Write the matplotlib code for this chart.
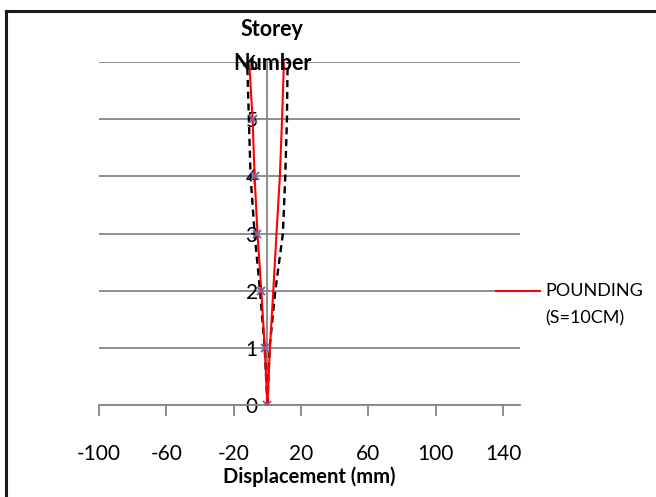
import matplotlib
matplotlib.use("Agg")
import matplotlib.pyplot as plt
from matplotlib.lines import Line2D

plt.rcParams['font.family'] = ['Lato', 'DejaVu Sans']
plt.rcParams['axes.unicode_minus'] = False

# storey levels
storeys = [0, 1, 2, 3, 4, 5, 6]

# pounding (S=10cm) displacement envelopes, mm
pounding_neg = [0, -1.6, -3.6, -5.9, -7.6, -8.8, -10.8]
pounding_pos = [0, 1.5, 3.5, 5.4, 7.4, 8.7, 9.8]

# dashed comparison envelopes, mm
dashed_neg = [0, -1.6, -4.4, -7.6, -10.0, -11.0, -12.0]
dashed_pos = [0, 1.3, 4.7, 9.2, 10.6, 11.6, 12.0]

# marker-only series, mm
marker_vals = [0, -1.7, -3.8, -6.1, -7.6, -8.6, -12.0]

xticks = [-100, -60, -20, 20, 60, 100, 140]

fig = plt.figure(figsize=(6.56, 4.97), dpi=100)
ax = fig.add_axes([99 / 656, 1 - 405 / 497, 421 / 656, 343 / 497])

grid_col = '#868686'

ax.plot(dashed_neg, storeys, color='black', lw=1.7, ls=(0, (3, 2)), zorder=3)
ax.plot(dashed_pos, storeys, color='black', lw=1.7, ls=(0, (3, 2)), zorder=3)
ax.plot(pounding_neg, storeys, color='#FF0000', lw=1.5, zorder=4)
ax.plot(pounding_pos, storeys, color='#FF0000', lw=1.5, zorder=4)
ax.plot(marker_vals, storeys, ls='none', marker='x', ms=6, mew=1.4,
        color='#8064A2', zorder=5)

ax.set_xlim(-100, 150)
ax.set_ylim(0, 6)
ax.set_xticks(xticks)
ax.set_xticklabels([str(v) for v in xticks])
ax.set_yticks(storeys)

ax.yaxis.grid(True, color=grid_col, lw=1.3)
ax.set_axisbelow(True)

for s in ['top', 'right']:
    ax.spines[s].set_visible(False)
ax.spines['left'].set_position(('data', 0))
ax.spines['left'].set_color(grid_col)
ax.spines['left'].set_linewidth(1.3)
ax.spines['bottom'].set_color(grid_col)
ax.spines['bottom'].set_linewidth(1.3)

ax.tick_params(axis='x', direction='out', length=8, width=1.3, color=grid_col,
               labelsize=15, pad=20)
ax.tick_params(axis='y', length=0, labelsize=15, pad=7)

ax.set_xlabel('Displacement (mm)', fontsize=14.5, fontweight='bold', labelpad=2)

fig.text(272 / 656, 1 - 30 / 497, 'Storey', ha='center', va='center',
         fontsize=15.5, fontweight='bold')
fig.text(272 / 656, 1 - 63 / 497, 'Number', ha='center', va='center',
         fontsize=15.5, fontweight='bold')

# legend
fig.add_artist(Line2D([496 / 656, 540 / 656], [1 - 291 / 497, 1 - 291 / 497],
                      color='#FF0000', lw=1.5))
fig.text(545 / 656, 1 - 291 / 497, 'POUNDING', ha='left', va='center', fontsize=13)
fig.text(545 / 656, 1 - 318 / 497, '(S=10CM)', ha='left', va='center', fontsize=13)

# chart border (top and left edges visible)
fig.add_artist(Line2D([6 / 656, 1.0], [1 - 11 / 497, 1 - 11 / 497], color='#1a1a1a', lw=2.2))
fig.add_artist(Line2D([6 / 656, 6 / 656], [0, 1 - 11 / 497], color='#1a1a1a', lw=2.2))

fig.savefig('out.png', dpi=100)
